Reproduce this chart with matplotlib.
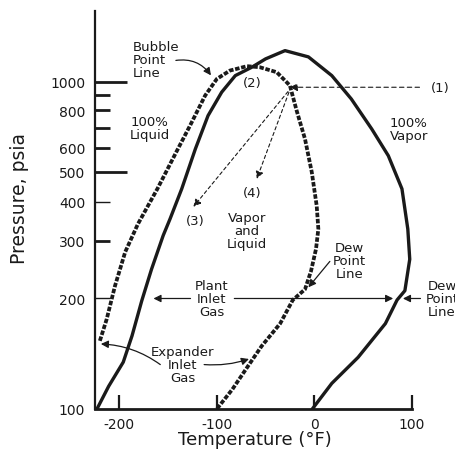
import numpy as np
import matplotlib
matplotlib.use('Agg')
import matplotlib.pyplot as plt
from matplotlib.ticker import FixedLocator, FixedFormatter

plt.rcParams['font.family'] = ['DejaVu Sans']

# plant inlet gas phase envelope (solid), temperature degF / pressure psia
plant_t = [-223, -211, -196, -187, -177, -167, -155, -148, -136, -122, -109, -95, -81,
           -64, -50, -30, -6, 18, 38, 59, 76, 90, 96, 98, 93, 85, 73, 45, 18, -2]
plant_p = [100, 114, 132, 156, 197, 245, 312, 352, 440, 595, 768, 921, 1048,
           1119, 1194, 1274, 1213, 1048, 874, 693, 565, 440, 327, 263, 211, 198, 169, 136, 116, 100]

# expander inlet gas phase envelope (dashed)
exp_t = [-220, -213, -204.5, -194, -181, -161, -141, -127.5, -112, -100, -86.5, -69,
         -56, -38.5, -25, -18, -9.5, -2.6, 2.5, 4.2, 1.8, -3.3, -9.5, -22, -35, -54, -70, -84, -100]
exp_p = [151, 174, 218, 277, 339, 440, 586, 711, 897, 1021, 1090, 1128,
         1119, 1076, 970, 797, 642, 500, 388, 327, 283, 242, 213, 198, 169, 146, 126.5, 112, 100]

y_ticks = [100, 200, 300, 400, 500, 600, 700, 800, 900, 1000]
y_labels = ['100', '200', '300', '400', '500', '600', '', '800', '', '1000']
x_ticks = [-200, -100, 0, 100]
x_labels = ['-200', '-100', '0', '100']


def fwd(p):
    return np.log10(np.maximum(np.asarray(p, dtype=float) - 30, 1e-6))


def inv(v):
    return 10 ** np.asarray(v, dtype=float) + 30


fig = plt.figure(figsize=(4.55, 4.56), dpi=100)
ax = fig.add_axes([95 / 455, 1 - 410 / 456, 316.7 / 455, 398 / 456])
ax.set_yscale('function', functions=(fwd, inv))
ax.set_xlim(-225, 100)
ax.set_ylim(100, 1740)

ink = '#1a1a1a'
ax.plot(plant_t, plant_p, color=ink, lw=2.4, solid_capstyle='round', solid_joinstyle='round')
ax.plot(exp_t, exp_p, color=ink, lw=2.7, dashes=(1.2, 0.45))

for s in ['top', 'right']:
    ax.spines[s].set_visible(False)
ax.spines['left'].set_linewidth(1.6)
ax.spines['bottom'].set_linewidth(2.0)
ax.spines['left'].set_color(ink)
ax.spines['bottom'].set_color(ink)

ax.yaxis.set_major_locator(FixedLocator(y_ticks))
ax.yaxis.set_major_formatter(FixedFormatter(y_labels))
ax.yaxis.set_minor_locator(FixedLocator([]))
ax.set_xticks(x_ticks)
ax.set_xticklabels(x_labels)
ax.tick_params(axis='y', direction='in', length=11, width=2, pad=7, labelsize=10, colors=ink)
ax.tick_params(axis='x', direction='in', length=10, width=1.6, pad=6, labelsize=10, colors=ink)
for val, t in zip(y_ticks, ax.yaxis.get_major_ticks()):
    if val in (1000, 500):
        t.tick1line.set_markersize(23)
    if val in (200, 400):
        t.tick1line.set_markeredgewidth(1.0)
    if val == 100:
        t.tick1line.set_visible(False)

fig.text(20 / 455, 1 - 198 / 456, 'Pressure, psia', rotation=90, ha='center', va='center',
         fontsize=13.5, color=ink)
fig.text(255 / 455, 1 - 440 / 456, 'Temperature (°F)', ha='center', va='center',
         fontsize=13, color=ink)

tk = dict(fontsize=9.5, color=ink, linespacing=1.0)
head = dict(arrowstyle='-|>', color=ink, lw=0.9, mutation_scale=11, shrinkA=0, shrinkB=0)

ax.text(-186, 1185, 'Bubble\nPoint\nLine', ha='left', va='center', **tk)
ax.annotate('', xy=(-106, 1050), xytext=(-142, 1180),
            arrowprops=dict(head, connectionstyle='arc3,rad=-0.3'))

ax.text(-64, 995, '(2)', ha='center', va='center', **tk)
ax.text(129, 957, '(1)', ha='center', va='center', clip_on=False, **tk)
ax.annotate('', xy=(-25, 957), xytext=(108, 957), annotation_clip=False,
            arrowprops=dict(head, lw=0.8, linestyle=(0, (4, 3))))
ax.annotate('', xy=(-124, 385), xytext=(-27, 925),
            arrowprops=dict(head, lw=0.8, linestyle=(0, (3, 2.5))))
ax.annotate('', xy=(-59, 474), xytext=(-26, 920),
            arrowprops=dict(head, lw=0.8, linestyle=(0, (3, 2.5))))
ax.text(-122, 347, '(3)', ha='center', va='center', **tk)
ax.text(-64, 427, '(4)', ha='center', va='center', **tk)

ax.text(-189, 699, '100%\nLiquid', ha='left', va='center', **tk)
ax.text(97, 693, '100%\nVapor', ha='center', va='center', clip_on=False, **tk)
ax.text(-69, 323, 'Vapor\nand\nLiquid', ha='center', va='center', **tk)

ax.text(-105, 200, 'Plant\nInlet\nGas', ha='center', va='center', **tk)
ax.annotate('', xy=(-165, 200), xytext=(-127, 200), arrowprops=head)
ax.annotate('', xy=(81, 200), xytext=(-82, 200), arrowprops=head)

ax.text(36, 260, 'Dew\nPoint\nLine', ha='center', va='center', **tk)
ax.annotate('', xy=(-6, 216), xytext=(16, 259), arrowprops=head)

# right-hand label runs off the figure edge, as in the source
ax.text(131, 200, 'Dew\nPoint\nLine', ha='center', va='center', clip_on=False, **tk)
ax.annotate('', xy=(91, 200), xytext=(109, 200), annotation_clip=False, arrowprops=head)

ax.text(-135, 130, 'Expander\nInlet\nGas', ha='center', va='center', **tk)
ax.annotate('', xy=(-219, 148), xytext=(-158, 130),
            arrowprops=dict(head, connectionstyle='arc3,rad=0.15'))
ax.annotate('', xy=(-67, 134.6), xytext=(-113, 130),
            arrowprops=dict(head, connectionstyle='arc3,rad=0.1'))

fig.savefig('out.png', dpi=100)
